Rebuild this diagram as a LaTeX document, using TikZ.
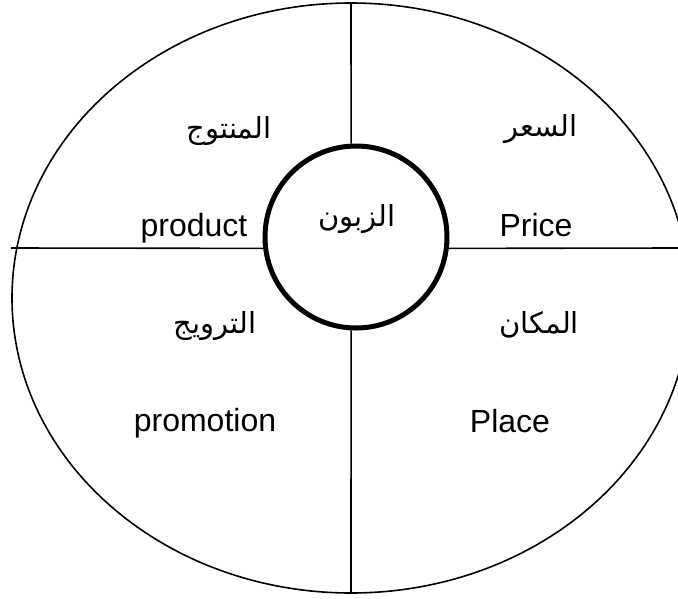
\documentclass[tikz,border=0pt]{standalone}
\usepackage{fontspec}
\setmainfont{Liberation Sans}
\newfontfamily\arabicfont[Script=Arabic]{DejaVu Sans}
\TeXXeTstate=1
\begin{document}
\begin{tikzpicture}[x=1pt,y=-1pt,
  latin/.style={font=\fontsize{32}{38}\selectfont, anchor=base, inner sep=0pt},
  arabic/.style={font=\arabicfont\fontsize{29}{34}\selectfont, anchor=base, inner sep=0pt},
  rule/.style={line width=1.6pt},
  rim/.style={line width=1.6pt},
  hub/.style={circle, draw, line width=5pt, minimum size=182pt, inner sep=0pt},
]
\useasboundingbox (0,0) rectangle (678,598);
\clip (0,0) rectangle (678,598);

% outer ring
\draw[rim] (351,298) ellipse [x radius=339, y radius=295];

% customer at the centre
\node[hub] (cust) at (356,237) {};
\node[arabic] (custtext) at (357,226) {\beginR الزبون\endR};

% free ends of the four dividing lines
\coordinate (topend) at (351,3.5);
\coordinate (botend) at (351,593);
\coordinate (leftend) at (11,248);
\coordinate (rightend) at (678,248);

\draw[rule] (topend) -- (cust.93);
\draw[rule] (cust.267) -- (botend);
\draw[rule] (leftend) -- (cust.187);
\draw[rule] (cust.353) -- (rightend);

% the four Ps
\node[arabic] (prodar) at (229,138) {\beginR المنتوج\endR};
\node[latin] (prod) at (194,236) {product};
\node[arabic] (pricear) at (541,136) {\beginR السعر\endR};
\node[latin] (price) at (536,236) {Price};
\node[arabic] (promar) at (215,333) {\beginR الترويج\endR};
\node[latin] (prom) at (205,431) {promotion};
\node[arabic] (placear) at (539,333) {\beginR المكان\endR};
\node[latin] (place) at (510,432) {Place};
\end{tikzpicture}
\end{document}
